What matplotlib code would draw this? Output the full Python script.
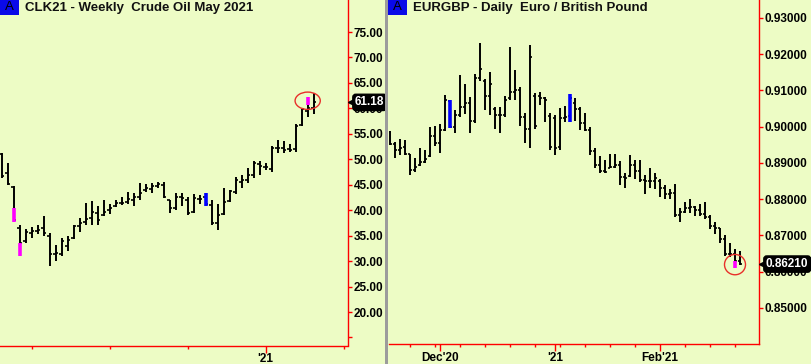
import matplotlib
matplotlib.use("Agg")
import matplotlib.pyplot as plt
import matplotlib.transforms as mtransforms
from matplotlib.patches import Ellipse, Rectangle
from matplotlib.ticker import FixedLocator, FixedFormatter

plt.rcParams['font.family'] = ['Liberation Sans', 'DejaVu Sans']

BG = "#EDFCC5"; RED = "#FF0000"; MAG = "#FF00FF"; BLU = "#0000FF"

# ---- CLK21 weekly, bar 0 = week of 24 Feb 2020 ----
clk_open  = [51.0, 47.4, 44.5, 36.5, 34.0, 35.5, 36.0, 36.5, 35.0, 31.4, 31.3, 33.0, 34.5, 36.8,
             37.6, 38.5, 39.5, 39.0, 40.0, 40.8, 41.4, 41.6, 42.0, 42.5, 44.0, 44.2, 44.8, 45.0,
             42.0, 40.4, 42.5, 42.0, 39.6, 42.2, 42.5, 41.0, 37.5, 39.2, 41.8, 43.5, 45.5, 46.0,
             47.0, 49.0, 48.5, 48.0, 52.3, 52.2, 52.0, 52.0, 56.8, 59.5, 60.0]
clk_high  = [51.3, 49.2, 44.75, 37.1, 36.3, 36.75, 37.1, 38.9, 35.6, 33.2, 34.5, 34.9, 37.1, 38.4,
             41.5, 41.8, 40.8, 42.1, 41.2, 42.1, 42.5, 43.6, 43.4, 45.3, 45.1, 45.3, 45.6, 45.5,
             42.1, 43.4, 43.3, 42.5, 43.2, 43.0, 43.4, 42.0, 41.2, 44.3, 44.0, 46.6, 46.9, 48.2,
             49.7, 49.7, 49.2, 52.6, 53.8, 53.6, 53.1, 56.9, 59.8, 62.3, 63.0]
clk_low   = [46.3, 44.95, 37.7, 31.0, 33.5, 34.5, 35.3, 34.9, 29.0, 30.1, 31.0, 32.0, 34.3, 35.8,
             37.1, 37.1, 37.1, 38.9, 39.3, 40.6, 41.0, 41.2, 40.8, 42.0, 43.6, 43.4, 44.3, 42.3,
             39.4, 40.0, 40.8, 39.1, 39.4, 41.2, 40.8, 37.1, 36.1, 39.1, 41.7, 43.2, 44.3, 45.4,
             46.3, 46.9, 47.8, 47.6, 51.3, 51.3, 51.5, 51.5, 56.5, 58.4, 58.9]
clk_close = [46.8, 45.2, 38.0, 33.5, 35.8, 35.9, 36.2, 35.6, 31.3, 31.6, 34.0, 34.2, 36.8, 37.4,
             38.2, 39.7, 38.1, 39.7, 40.5, 41.4, 41.5, 42.2, 42.6, 43.3, 44.4, 44.8, 45.1, 42.6,
             40.4, 42.5, 42.3, 39.5, 42.3, 42.2, 41.2, 37.5, 39.0, 41.6, 43.8, 45.9, 45.9, 47.0,
             49.2, 48.7, 48.4, 52.3, 52.3, 51.9, 51.9, 56.5, 59.8, 60.0, 61.18]
clk_hl_idx = [2, 3, 34, 51]
clk_hl_top = [40.4, 33.5, 43.4, 62.3]
clk_hl_bot = [37.7, 31.0, 40.8, 60.7]
clk_hl_col = [MAG, MAG, BLU, MAG]
clk_yticks = [15, 20, 25, 30, 35, 40, 45, 50, 55, 60, 65, 70, 75]
clk_major = [44]; clk_major_lab = ["'21"]
clk_minor = [5, 18, 31, 57]

# ---- EURGBP daily, bar 0 = 17 Nov 2020 ----
eg_open  = [0.8985, 0.8952, 0.8936, 0.8945, 0.8925, 0.8880, 0.8893, 0.8903, 0.8918, 0.8973, 0.8955,
            0.8990, 0.9070, 0.9000, 0.9032, 0.9055, 0.9065, 0.9015, 0.9135, 0.9125, 0.9085, 0.9050,
            0.9032, 0.9032, 0.9080, 0.9095, 0.9100, 0.9028, 0.8995, 0.9085, 0.9085, 0.9078, 0.9030,
            0.9025, 0.8945, 0.9025, 0.9030, 0.9065, 0.9050, 0.9010, 0.8992, 0.8932, 0.8895, 0.8878,
            0.8886, 0.8890, 0.8895, 0.8860, 0.8863, 0.8895, 0.8878, 0.8852, 0.8850, 0.8850, 0.8850,
            0.8830, 0.8815, 0.8818, 0.8755, 0.8765, 0.8775, 0.8778, 0.8770, 0.8760, 0.8750, 0.8725,
            0.8720, 0.8690, 0.8650, 0.8648, 0.8630]
eg_high  = [0.8988, 0.8959, 0.8965, 0.8962, 0.8926, 0.8915, 0.8940, 0.8936, 0.9000, 0.9002, 0.9007,
            0.9087, 0.9074, 0.9046, 0.9143, 0.9118, 0.9083, 0.9145, 0.9232, 0.9131, 0.9152, 0.9055,
            0.9055, 0.9085, 0.9221, 0.9156, 0.9109, 0.9037, 0.9225, 0.9092, 0.9097, 0.9083, 0.9037,
            0.9032, 0.9051, 0.9057, 0.9090, 0.9078, 0.9053, 0.9039, 0.8998, 0.8940, 0.8919, 0.8908,
            0.8925, 0.8925, 0.8906, 0.8871, 0.8922, 0.8908, 0.8908, 0.8867, 0.8885, 0.8871, 0.8855,
            0.8839, 0.8827, 0.8842, 0.8777, 0.8793, 0.8800, 0.8781, 0.8788, 0.8793, 0.8756, 0.8738,
            0.8720, 0.8702, 0.8678, 0.8662, 0.8658]
eg_low   = [0.8949, 0.8915, 0.8922, 0.8922, 0.8868, 0.8876, 0.8892, 0.8899, 0.8917, 0.8947, 0.8928,
            0.8989, 0.8997, 0.8983, 0.9028, 0.9035, 0.8983, 0.9009, 0.9125, 0.9046, 0.9032, 0.8993,
            0.8983, 0.9028, 0.9074, 0.9074, 0.9002, 0.8954, 0.8940, 0.8993, 0.9060, 0.9014, 0.8936,
            0.8922, 0.8936, 0.9014, 0.9013, 0.9017, 0.8991, 0.8989, 0.8922, 0.8885, 0.8871, 0.8871,
            0.8885, 0.8885, 0.8839, 0.8830, 0.8862, 0.8857, 0.8848, 0.8814, 0.8830, 0.8827, 0.8807,
            0.8800, 0.8800, 0.8750, 0.8738, 0.8761, 0.8761, 0.8754, 0.8754, 0.8744, 0.8717, 0.8704,
            0.8680, 0.8643, 0.8641, 0.8609, 0.8618]
eg_close = [0.8952, 0.8936, 0.8940, 0.8925, 0.8880, 0.8890, 0.8903, 0.8910, 0.8973, 0.8955, 0.8990,
            0.9075, 0.9000, 0.9032, 0.9055, 0.9065, 0.9015, 0.9135, 0.9158, 0.9085, 0.9118, 0.9032,
            0.9032, 0.9075, 0.9095, 0.9100, 0.9028, 0.8995, 0.9192, 0.9002, 0.9078, 0.9075, 0.8945,
            0.8940, 0.9025, 0.9028, 0.9080, 0.9050, 0.9010, 0.8992, 0.8932, 0.8895, 0.8878, 0.8875,
            0.8890, 0.8895, 0.8860, 0.8858, 0.8895, 0.8878, 0.8852, 0.8850, 0.8850, 0.8858, 0.8830,
            0.8815, 0.8818, 0.8755, 0.8765, 0.8775, 0.8778, 0.8770, 0.8760, 0.8750, 0.8725, 0.8720,
            0.8690, 0.8650, 0.8648, 0.8630, 0.8621]
eg_hl_idx = [12, 36, 69]
eg_hl_top = [0.9074, 0.9090, 0.8630]
eg_hl_bot = [0.8997, 0.9013, 0.8609]
eg_hl_col = [BLU, BLU, MAG]
eg_yticks = [0.85, 0.86, 0.87, 0.88, 0.89, 0.90, 0.91, 0.92, 0.93]
eg_major = [10, 33, 54]; eg_major_lab = ["Dec'20", "'21", "Feb'21"]
eg_minor = [4, 9, 14, 19, 24, 29, 34, 39, 44, 49, 59, 64, 69]

W, H = 811, 364
fig = plt.figure(figsize=(W/100, H/100), dpi=100)
fig.patch.set_facecolor(BG)

def px(x0, y0, x1, y1):
    return [x0/W, 1 - y1/H, (x1-x0)/W, (y1-y0)/H]

def ohlc(ax, o, h, l, c, w):
    x = list(range(len(o)))
    ax.vlines(x, l, h, color="black", lw=1.4, zorder=3)
    ax.hlines(o, [i - w for i in x], x, color="black", lw=1.2, zorder=3)
    ax.hlines(c, x, [i + w for i in x], color="black", lw=1.2, zorder=3)

def style(ax, yt, ylab, major, mlab, minor):
    ax.set_facecolor(BG)
    for s in ["top", "left"]:
        ax.spines[s].set_visible(False)
    for s in ["bottom", "right"]:
        ax.spines[s].set_color(RED); ax.spines[s].set_linewidth(1.0)
    ax.yaxis.tick_right()
    ax.yaxis.set_major_locator(FixedLocator(yt))
    ax.yaxis.set_major_formatter(FixedFormatter(ylab))
    ax.xaxis.set_major_locator(FixedLocator(major))
    ax.xaxis.set_major_formatter(FixedFormatter(mlab))
    ax.xaxis.set_minor_locator(FixedLocator(minor))
    ax.tick_params(axis="y", colors=RED, labelcolor="black", length=3, width=1, pad=1,
                   labelsize=8.5, direction="out")
    ax.tick_params(axis="x", which="major", colors=RED, labelcolor="black", length=5, width=1,
                   pad=0.5, labelsize=8.5, direction="out")
    ax.tick_params(axis="x", which="minor", colors=RED, length=2, width=1, direction="out")
    for t in ax.get_xticklabels() + ax.get_yticklabels():
        t.set_fontweight("bold")

def last_price(ax, val, txt):
    tr = mtransforms.blended_transform_factory(ax.transAxes, ax.transData)
    ax.plot([1.0], [val], marker="<", ms=6, color="black", mec="black", clip_on=False, zorder=9,
            transform=tr + mtransforms.ScaledTranslation(3/72, 0, fig.dpi_scale_trans))
    ax.annotate(txt, xy=(1.0, val), xycoords=tr, xytext=(5, 0), textcoords="offset points",
                ha="left", va="center", fontsize=8.5, fontweight="bold", color="white", zorder=10,
                bbox=dict(boxstyle="round,pad=0.18,rounding_size=0.25", fc="black", ec="black"))

# left panel
ax1 = fig.add_axes(px(0, 0, 348, 345.5))
ohlc(ax1, clk_open, clk_high, clk_low, clk_close, 0.4)
ax1.vlines(clk_hl_idx, clk_hl_bot, clk_hl_top, colors=clk_hl_col, lw=2.6, zorder=4)
ax1.set_xlim(-0.283, 57.72); ax1.set_ylim(13.42, 81.29)
style(ax1, clk_yticks, ["" if v == 15 else f"{v:.2f}" for v in clk_yticks], clk_major, clk_major_lab, clk_minor)
ax1.add_patch(Ellipse((clk_hl_idx[-1], (clk_hl_top[-1] + clk_hl_bot[-1]) / 2), 4.2, 3.4,
                      fill=False, ec="#E8302A", lw=1.0, zorder=5))
last_price(ax1, clk_close[-1], f"{clk_close[-1]:.2f}")

# right panel
ax2 = fig.add_axes(px(389, 0, 759, 344))
ohlc(ax2, eg_open, eg_high, eg_low, eg_close, 0.4)
ax2.vlines(eg_hl_idx, eg_hl_bot, eg_hl_top, colors=eg_hl_col, lw=2.6, zorder=4)
ax2.set_xlim(-0.2, 73.8); ax2.set_ylim(0.84005, 0.93495)
style(ax2, eg_yticks, [f"{v:.5f}" for v in eg_yticks], eg_major, eg_major_lab, eg_minor)
ax2.add_patch(Ellipse((eg_hl_idx[-1], (eg_hl_top[-1] + eg_hl_bot[-1]) / 2), 4.2, 0.0056,
                      fill=False, ec="#E8302A", lw=1.0, zorder=5))
last_price(ax2, eg_close[-1], f"{eg_close[-1]:.5f}")

# separator + headers
fig.add_artist(Rectangle((385/W, 0), 3/W, 1, transform=fig.transFigure, fc="#9c9c9c", ec="none", zorder=20))
for x0, title in [(0, "CLK21 - Weekly  Crude Oil May 2021"), (388, "EURGBP - Daily  Euro / British Pound")]:
    fig.add_artist(Rectangle((x0/W, 1 - 15/H), 19/W, 15/H, transform=fig.transFigure, fc="#0A0AE8", ec="none", zorder=21))
    fig.text((x0 + 9.5)/W, 1 - 7.5/H, "A", ha="center", va="center", fontsize=9.5, color="black", zorder=22)
    fig.text((x0 + 25)/W, 1 - 8/H, title, ha="left", va="center", fontsize=9.5, fontweight="bold", color="#111111", zorder=22)

fig.savefig("out.png", dpi=100, facecolor=BG)
